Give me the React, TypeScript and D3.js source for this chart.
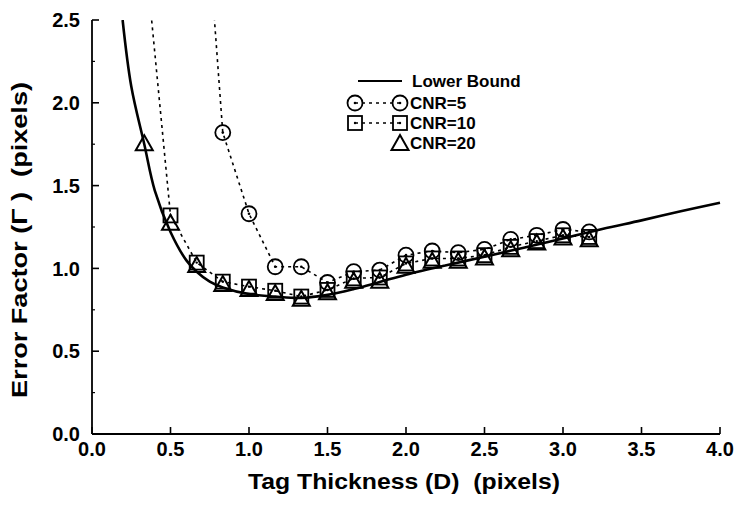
import React from "react";
import * as d3 from "d3";

const xTicks = [0, 0.5, 1.0, 1.5, 2.0, 2.5, 3.0, 3.5, 4.0];
const yTicks = [0, 0.5, 1.0, 1.5, 2.0, 2.5];
const yMinorTicks = [0.25, 0.75, 1.25, 1.75, 2.25];

const lowerBoundD = [0.195, 0.25, 0.333, 0.4, 0.5, 0.6, 0.667, 0.75, 0.833, 1.0, 1.167, 1.333, 1.5, 1.667, 1.833, 2.0, 2.25, 2.5, 2.75, 3.0, 3.25, 3.5, 3.75, 4.0];
const lowerBoundV = [2.5, 2.1, 1.75, 1.47, 1.22, 1.05, 0.98, 0.92, 0.885, 0.845, 0.83, 0.822, 0.84, 0.875, 0.918, 0.962, 1.018, 1.07, 1.125, 1.18, 1.238, 1.29, 1.345, 1.397];

const cnr5D = [0.667, 0.833, 1.0, 1.167, 1.333, 1.5, 1.667, 1.833, 2.0, 2.167, 2.333, 2.5, 2.667, 2.833, 3.0, 3.167];
const cnr5V = [3.95, 1.82, 1.33, 1.01, 1.01, 0.915, 0.98, 0.99, 1.08, 1.105, 1.095, 1.115, 1.175, 1.2, 1.235, 1.22];

const cnr10D = [0.333, 0.5, 0.667, 0.833, 1.0, 1.167, 1.333, 1.5, 1.667, 1.833, 2.0, 2.167, 2.333, 2.5, 2.667, 2.833, 3.0, 3.167];
const cnr10V = [2.96, 1.32, 1.035, 0.92, 0.89, 0.865, 0.83, 0.87, 0.94, 0.945, 1.03, 1.06, 1.06, 1.08, 1.13, 1.165, 1.2, 1.19];

const cnr20D = [0.333, 0.5, 0.667, 0.833, 1.0, 1.167, 1.333, 1.5, 1.667, 1.833, 2.0, 2.167, 2.333, 2.5, 2.667, 2.833, 3.0, 3.167];
const cnr20V = [1.75, 1.27, 1.015, 0.9, 0.87, 0.845, 0.81, 0.85, 0.92, 0.92, 1.01, 1.04, 1.04, 1.06, 1.11, 1.15, 1.18, 1.17];

const FONT = "'Liberation Sans', Arial, Helvetica, sans-serif";

export default function App() {
  const W = 750, H = 508;
  const x = d3.scaleLinear().domain([0, 4]).range([92, 720]);
  const y = d3.scaleLinear().domain([0, 2.5]).range([434, 20]);

  const line = d3.line<[number, number]>().x((d) => x(d[0])).y((d) => y(d[1]));
  const smooth = d3.line<[number, number]>().x((d) => x(d[0])).y((d) => y(d[1])).curve(d3.curveCatmullRom.alpha(0.5));

  const lb = lowerBoundD.map((d, i) => [d, lowerBoundV[i]] as [number, number]);
  const s5 = cnr5D.map((d, i) => [d, cnr5V[i]] as [number, number]);
  const s10 = cnr10D.map((d, i) => [d, cnr10V[i]] as [number, number]);
  const s20 = cnr20D.map((d, i) => [d, cnr20V[i]] as [number, number]);

  const inPlot = (v: number) => v <= 2.5;

  const circ = (cx: number, cy: number, k: string) => (
    <g key={k}>
      <circle cx={cx} cy={cy} r={7.5} fill="none" stroke="#000" strokeWidth={1.8} />
      <circle cx={cx} cy={cy} r={1.3} fill="#000" />
    </g>
  );
  const sq = (cx: number, cy: number, k: string) => (
    <g key={k}>
      <rect x={cx - 7} y={cy - 7} width={14} height={14} fill="none" stroke="#000" strokeWidth={1.8} />
      <circle cx={cx} cy={cy} r={1.2} fill="#000" />
    </g>
  );
  const tri = (cx: number, cy: number, k: string) => (
    <path key={k} d={`M${cx},${cy - 9}L${cx + 8.5},${cy + 6}L${cx - 8.5},${cy + 6}Z`} fill="none" stroke="#000" strokeWidth={2} strokeLinejoin="miter" />
  );

  return (
    <svg width={W} height={H} style={{ position: "absolute", left: 0, top: 0, background: "#fff" }} fontFamily={FONT}>
      <rect x={0} y={0} width={W} height={H} fill="#fff" />
      <defs>
        <clipPath id="plot">
          <rect x={92} y={20} width={640} height={414} />
        </clipPath>
      </defs>

      {/* axes */}
      <line x1={x(0)} x2={x(0)} y1={y(0)} y2={y(2.5)} stroke="#000" strokeWidth={1.8} />
      <line x1={x(0)} x2={x(4)} y1={y(0)} y2={y(0)} stroke="#000" strokeWidth={1.8} />
      {yTicks.map((t) => (
        <g key={"yt" + t}>
          <line x1={x(0)} x2={x(0) + 7} y1={y(t)} y2={y(t)} stroke="#000" strokeWidth={1.6} />
          <text x={80} y={y(t)} dy="0.36em" textAnchor="end" fontSize={20} fontWeight="bold">
            {t.toFixed(1)}
          </text>
        </g>
      ))}
      {yMinorTicks.map((t) => (
        <line key={"ym" + t} x1={x(0)} x2={x(0) + 3} y1={y(t)} y2={y(t)} stroke="#000" strokeWidth={1.2} />
      ))}
      {xTicks.map((t) => (
        <g key={"xt" + t}>
          <line x1={x(t)} x2={x(t)} y1={y(0)} y2={y(0) - 7} stroke="#000" strokeWidth={1.6} />
          <text x={x(t)} y={456} textAnchor="middle" fontSize={20} fontWeight="bold">
            {t.toFixed(1)}
          </text>
        </g>
      ))}

      <text x={404} y={489} textAnchor="middle" fontSize={22} fontWeight="bold" textLength={312} lengthAdjust="spacingAndGlyphs" style={{ whiteSpace: "pre" }}>
        {"Tag Thickness (D)  (pixels)"}
      </text>
      <text transform="translate(27,240) rotate(-90)" textAnchor="middle" fontSize={22} fontWeight="bold" textLength={316} lengthAdjust="spacingAndGlyphs" style={{ whiteSpace: "pre" }}>
        {"Error Factor (Γ )  (pixels)"}
      </text>

      <g clipPath="url(#plot)">
        <path d={smooth(lb) || ""} fill="none" stroke="#000" strokeWidth={2.6} />
        <path d={line(s5) || ""} fill="none" stroke="#000" strokeWidth={1.6} strokeDasharray="3,4" />
        <path d={line(s10) || ""} fill="none" stroke="#000" strokeWidth={1.6} strokeDasharray="3,4" />
      </g>

      {s5.filter((d) => inPlot(d[1])).map((d, i) => circ(x(d[0]), y(d[1]), "c" + i))}
      {s10.filter((d) => inPlot(d[1])).map((d, i) => sq(x(d[0]), y(d[1]), "s" + i))}
      {s20.filter((d) => inPlot(d[1])).map((d, i) => tri(x(d[0]), y(d[1]), "t" + i))}

      {/* legend */}
      <line x1={358} x2={402} y1={81} y2={81} stroke="#000" strokeWidth={2} />
      <text x={412} y={81} dy="0.36em" fontSize={17} fontWeight="bold">Lower Bound</text>

      <line x1={355} x2={400} y1={103} y2={103} stroke="#000" strokeWidth={1.6} strokeDasharray="3,4" />
      {circ(355, 103, "lc1")}
      {circ(400, 103, "lc2")}
      <text x={410} y={103} dy="0.36em" fontSize={17} fontWeight="bold">CNR=5</text>

      <line x1={355} x2={400} y1={123} y2={123} stroke="#000" strokeWidth={1.6} strokeDasharray="3,4" />
      {sq(355, 123, "ls1")}
      {sq(400, 123, "ls2")}
      <text x={410} y={123} dy="0.36em" fontSize={17} fontWeight="bold">CNR=10</text>

      {tri(400, 144, "lt")}
      <text x={410} y={143} dy="0.36em" fontSize={17} fontWeight="bold">CNR=20</text>
    </svg>
  );
}
